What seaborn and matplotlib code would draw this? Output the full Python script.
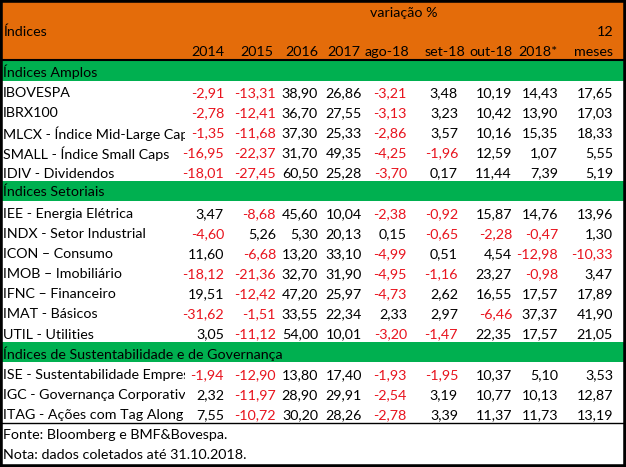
import numpy as np
import pandas as pd
import matplotlib.pyplot as plt
import seaborn as sns
from matplotlib.colors import ListedColormap
from matplotlib.transforms import Bbox, TransformedBbox

# column headers
col_labels = ['2014', '2015', '2016', '2017', 'ago-18', 'set-18', 'out-18', '2018*', 'meses']

# sections of the table
section_titles = ['Índices Amplos', 'Índices Setoriais',
                  'Índices de Sustentabilidade e de Governança']

amplos_names = ['IBOVESPA', 'IBRX100', 'MLCX - Índice Mid-Large Cap',
                'SMALL - Índice Small Caps', 'IDIV - Dividendos']
amplos_values = [
    [-2.91, -13.31, 38.90, 26.86, -3.21, 3.48, 10.19, 14.43, 17.65],
    [-2.78, -12.41, 36.70, 27.55, -3.13, 3.23, 10.42, 13.90, 17.03],
    [-1.35, -11.68, 37.30, 25.33, -2.86, 3.57, 10.16, 15.35, 18.33],
    [-16.95, -22.37, 31.70, 49.35, -4.25, -1.96, 12.59, 1.07, 5.55],
    [-18.01, -27.45, 60.50, 25.28, -3.70, 0.17, 11.44, 7.39, 5.19],
]

setoriais_names = ['IEE - Energia Elétrica', 'INDX - Setor Industrial', 'ICON – Consumo',
                   'IMOB – Imobiliário', 'IFNC – Financeiro', 'IMAT - Básicos',
                   'UTIL - Utilities']
setoriais_values = [
    [3.47, -8.68, 45.60, 10.04, -2.38, -0.92, 15.87, 14.76, 13.96],
    [-4.60, 5.26, 5.30, 20.13, 0.15, -0.65, -2.28, -0.47, 1.30],
    [11.60, -6.68, 13.20, 33.10, -4.99, 0.51, 4.54, -12.98, -10.33],
    [-18.12, -21.36, 32.70, 31.90, -4.95, -1.16, 23.27, -0.98, 3.47],
    [19.51, -12.42, 47.20, 25.97, -4.73, 2.62, 16.55, 17.57, 17.89],
    [-31.62, -1.51, 33.55, 22.34, 2.33, 2.97, -6.46, 37.37, 41.90],
    [3.05, -11.12, 54.00, 10.01, -3.20, -1.47, 22.35, 17.57, 21.05],
]

sust_names = ['ISE - Sustentabilidade Empresarial', 'IGC - Governança Corporativa',
              'ITAG - Ações com Tag Along']
sust_values = [
    [-1.94, -12.90, 13.80, 17.40, -1.93, -1.95, 10.37, 5.10, 3.53],
    [2.32, -11.97, 28.90, 29.91, -2.54, 3.19, 10.77, 10.13, 12.87],
    [7.55, -10.72, 30.20, 28.26, -2.78, 3.39, 11.37, 11.73, 13.19],
]

notes = ['Fonte: Bloomberg e BMF&Bovespa.', 'Nota: dados coletados até 31.10.2018.']

ORANGE = '#E46C0A'
GREEN = '#00B050'
RED = '#E8141E'

sns.set_theme(style='white')
plt.rcParams['font.family'] = ['Lato', 'DejaVu Sans']
FS = 10.3

# build the table row by row: (kind, label, values)
rows = [('head', None, None)] * 3
for title, names, values in zip(section_titles,
                                [amplos_names, setoriais_names, sust_names],
                                [amplos_values, setoriais_values, sust_values]):
    rows.append(('section', title, None))
    for n, v in zip(names, values):
        rows.append(('data', n, v))
for n in notes:
    rows.append(('note', n, None))

kind_code = {'head': 0, 'section': 1, 'data': 2, 'note': 2}
grid = pd.DataFrame({'bg': [kind_code[r[0]] for r in rows]})

fig = plt.figure(figsize=(6.26, 4.67), dpi=100)
ax = fig.add_axes([0, 0, 1, 1])
sns.heatmap(grid, cmap=ListedColormap([ORANGE, GREEN, 'white']), vmin=-0.5, vmax=2.5,
            cbar=False, xticklabels=False, yticklabels=False, ax=ax)
ax.set_ylim(len(rows) + 0.2, 0)

tr = ax.get_yaxis_transform()  # x in axes fraction, y in row units
W = 626.0
val_right = [224, 276, 318, 362, 407, 458, 512, 558, 613]
head_right = [224, 273, 318, 360, 409, 465, 513, 558, 613]

# header
ax.text(404 / W, 0.65, 'variação %', transform=tr, ha='center', va='center', fontsize=FS, color='black')
ax.text(3 / W, 1.6, 'Índices', transform=tr, ha='left', va='center', fontsize=FS, color='black')
ax.text(613 / W, 1.6, '12', transform=tr, ha='right', va='center', fontsize=FS, color='black')
for lab, xr in zip(col_labels, head_right):
    ax.text(xr / W, 2.58, lab, transform=tr, ha='right', va='center', fontsize=FS, color='black')

# long names are cut off at the first number column, as in the sheet
clip = TransformedBbox(Bbox([[0, 0], [185 / W, 1]]), ax.transAxes)
for i, (kind, label, vals) in enumerate(rows):
    if kind == 'section':
        ax.text(3 / W, i + 0.55, label, transform=tr, ha='left', va='center', fontsize=FS, color='black')
    elif kind == 'note':
        ax.text(3 / W, i + 0.6, label, transform=tr, ha='left', va='center', fontsize=FS, color='black')
    elif kind == 'data':
        t = ax.text(3 / W, i + 0.62, label, transform=tr, ha='left', va='center', fontsize=FS, color='black')
        t.set_clip_box(clip)
        t.set_clip_on(True)
        for v, xr in zip(vals, val_right):
            s = f'{v:.2f}'.replace('.', ',')
            ax.text(xr / W, i + 0.62, s, transform=tr, ha='right', va='center', fontsize=FS,
                    color=RED if v < 0 else 'black')

# rules
ax.axhline(3, color='black', lw=1.5)
ax.axhline(len(rows) - 2, color='black', lw=1.0)
for side in ['left', 'right', 'top', 'bottom']:
    ax.spines[side].set_visible(True)
    ax.spines[side].set_color('black')
    ax.spines[side].set_linewidth(4)

fig.savefig('out.png', dpi=100)
